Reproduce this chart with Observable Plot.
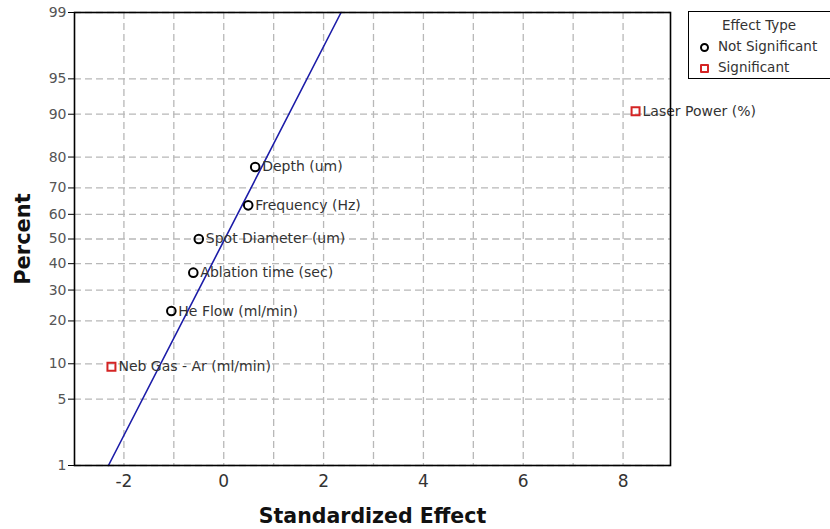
<!DOCTYPE html>
<html>
<head>
<meta charset="utf-8">
<script src="https://cdn.jsdelivr.net/npm/d3@7"></script>
<script src="https://cdn.jsdelivr.net/npm/@observablehq/plot@0.6"></script>
<style>
  html, body { margin: 0; padding: 0; background: #fff; }
  #wrap { position: relative; width: 830px; height: 529px; overflow: hidden; font-family: "DejaVu Sans", Verdana, sans-serif; }
  #legend { position: absolute; left: 688px; top: 11px; width: 160px; height: 68px; border: 1.5px solid #000; background: #fff; box-sizing: border-box; font-size: 13.5px; color: #333; }
  #legend .title { position: absolute; left: 33px; top: 5px; }
  #legend .row { position: absolute; left: 11px; }
  #legend .row span.sym { display: inline-block; width: 9px; height: 9px; margin-right: 9px; vertical-align: -1px; box-sizing: border-box; }
</style>
</head>
<body>
<div id="wrap">
  <div id="chart"></div>
  <div id="legend">
    <div class="title">Effect Type</div>
    <div class="row" style="top:26px"><span class="sym" style="border:2px solid #000;border-radius:50%"></span>Not Significant</div>
    <div class="row" style="top:47px"><span class="sym" style="border:2px solid #d42424;border-radius:1px"></span>Significant</div>
  </div>
</div>
<script>
// ---- data ----
const factors = ["Neb Gas - Ar (ml/min)", "He Flow (ml/min)", "Ablation time (sec)", "Spot Diameter (um)", "Frequency (Hz)", "Depth (um)", "Laser Power (%)"];
const effects = [-2.25, -1.05, -0.61, -0.50, 0.49, 0.63, 8.25];
const percents = [9.46, 22.97, 36.49, 50, 63.51, 77.03, 90.54];
const effectTypes = ["Significant", "Not Significant", "Not Significant", "Not Significant", "Not Significant", "Not Significant", "Significant"];
const refLineEffect = [-2.31, 2.35];
const refLinePercent = [1, 99];
const yTickLabels = [1, 5, 10, 20, 30, 40, 50, 60, 70, 80, 90, 95, 99];
const xTickLabels = [-2, 0, 2, 4, 6, 8];
const xGridValues = [-2, -1, 0, 1, 2, 3, 4, 5, 6, 7, 8];

// normal quantile (Acklam) for the probability scale
function qnorm(p) {
  const a = [-3.969683028665376e+01, 2.209460984245205e+02, -2.759285104469687e+02, 1.383577518672690e+02, -3.066479806614716e+01, 2.506628277459239e+00];
  const b = [-5.447609879822406e+01, 1.615858368580409e+02, -1.556989798598866e+02, 6.680131188771972e+01, -1.328068155288572e+01];
  const c = [-7.784894002430293e-03, -3.223964580411365e-01, -2.400758277161838e+00, -2.549732539343734e+00, 4.374664141464968e+00, 2.938163982698783e+00];
  const d = [7.784695709041462e-03, 3.224671290700398e-01, 2.445134137142996e+00, 3.754408661907416e+00];
  const pl = 0.02425, ph = 1 - pl;
  let q, r;
  if (p < pl) { q = Math.sqrt(-2 * Math.log(p)); return (((((c[0]*q+c[1])*q+c[2])*q+c[3])*q+c[4])*q+c[5]) / ((((d[0]*q+d[1])*q+d[2])*q+d[3])*q+1); }
  if (p > ph) { q = Math.sqrt(-2 * Math.log(1 - p)); return -(((((c[0]*q+c[1])*q+c[2])*q+c[3])*q+c[4])*q+c[5]) / ((((d[0]*q+d[1])*q+d[2])*q+d[3])*q+1); }
  q = p - 0.5; r = q * q;
  return (((((a[0]*r+a[1])*r+a[2])*r+a[3])*r+a[4])*r+a[5])*q / (((((b[0]*r+b[1])*r+b[2])*r+b[3])*r+b[4])*r+1);
}
const z = pct => qnorm(pct / 100);

const points = factors.map((f, i) => ({ factor: f, effect: effects[i], z: z(percents[i]), type: effectTypes[i] }));
const line = refLineEffect.map((e, i) => ({ effect: e, z: z(refLinePercent[i]) }));
const yTicks = yTickLabels.map(z);
const ns = points.filter(d => d.type === "Not Significant");
const sig = points.filter(d => d.type === "Significant");

const chart = Plot.plot({
  width: 830,
  height: 529,
  marginLeft: 74,
  marginRight: 160,
  marginTop: 12,
  marginBottom: 64,
  style: { fontFamily: "DejaVu Sans, Verdana, sans-serif", background: "#fff", overflow: "visible" },
  x: { domain: [-2.99, 8.95] },
  y: { domain: [z(1), z(99)] },
  marks: [
    Plot.gridX(xGridValues, { stroke: "#b8b8b8", strokeOpacity: 1, strokeDasharray: "7,4", strokeWidth: 1.3 }),
    Plot.gridY(yTicks, { stroke: "#b8b8b8", strokeOpacity: 1, strokeDasharray: "7,4", strokeWidth: 1.3 }),
    Plot.axisX(xTickLabels, { tickSize: 0, tickPadding: 9, fontSize: 17, fill: "#333", label: null,
      tickFormat: d => String(d) }),
    Plot.axisY(yTicks, { tickSize: 6, tickPadding: 2, fontSize: 14, fill: "#555", label: null,
      tickFormat: (d, i) => String(yTickLabels[i]) }),
    Plot.line(line, { x: "effect", y: "z", stroke: "#1c1ca8", strokeWidth: 1.6 }),
    Plot.dot(ns, { x: "effect", y: "z", symbol: "circle", r: 4.3, stroke: "#000", strokeWidth: 2, fill: "none" }),
    Plot.dot(sig, { x: "effect", y: "z", symbol: "square", r: 4.5, stroke: "#d42424", strokeWidth: 2, fill: "none" }),
    Plot.text(points, { x: "effect", y: "z", text: "factor", dx: 7, textAnchor: "start", fontSize: 14, fill: "#333" }),
    Plot.frame({ stroke: "#000", strokeWidth: 1.6 }),
    Plot.text(["Standardized Effect"], { frameAnchor: "bottom", dy: 57, fontSize: 20.5, fontWeight: "bold", fill: "#111" }),
    Plot.text(["Percent"], { frameAnchor: "left", dx: -51, rotate: -90, textAnchor: "middle", fontSize: 21, fontWeight: "bold", fill: "#111" })
  ]
});
document.getElementById("chart").appendChild(chart);
</script>
</body>
</html>
